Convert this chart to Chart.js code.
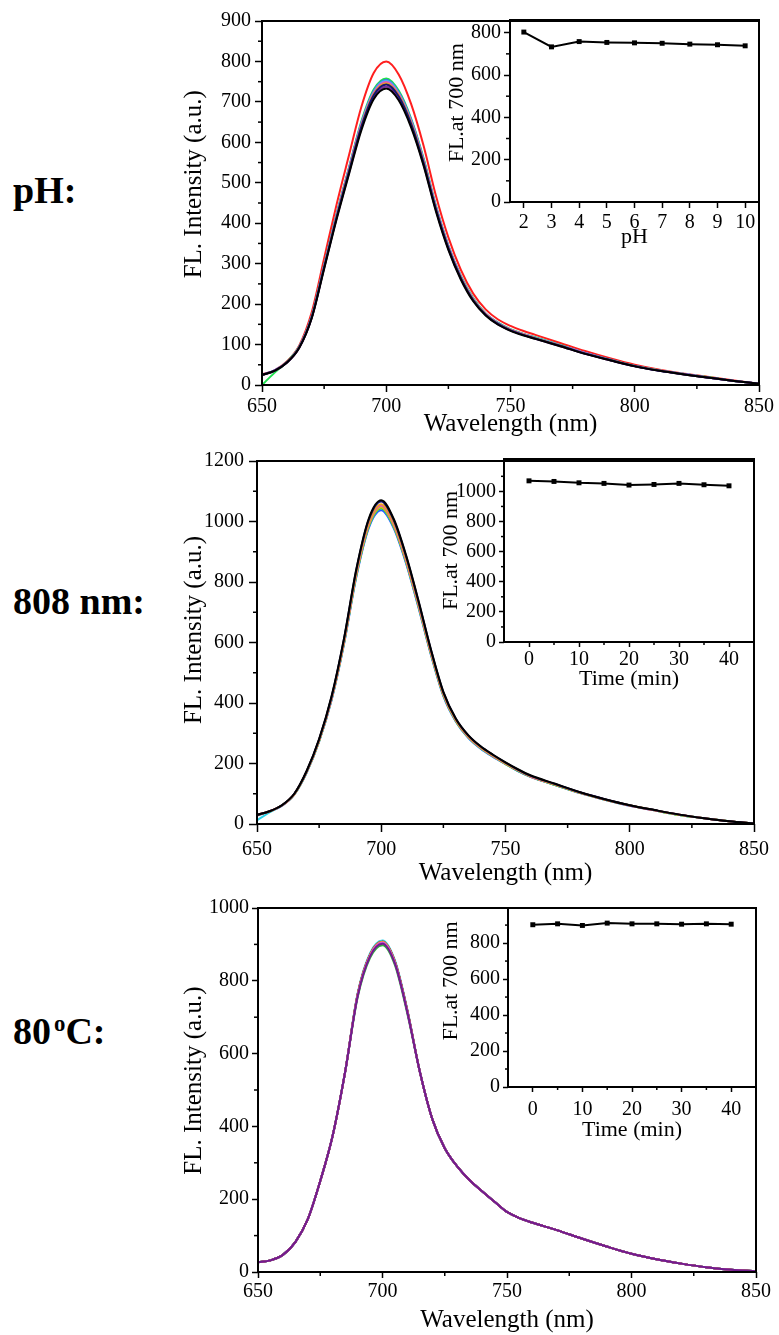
<!DOCTYPE html>
<html lang="en">
<head>
<meta charset="UTF-8">
<title>FL stability</title>
<script src="https://cdn.jsdelivr.net/npm/chart.js"></script>
<style>
  body { margin: 0; background: #fff; width: 779px; height: 1335px; position: relative; overflow: hidden; }
  canvas { position: absolute; display: block; }
  .tag { position: absolute; left: 13px; font: bold 38px "Liberation Serif", serif; line-height: 1; color: #000; white-space: nowrap; }
  .tag sup { font-size: 60%; vertical-align: 0.55em; margin-left: 3px; }
</style>
</head>
<body>

<div class="tag" style="top:171px">pH:</div>
<div class="tag" style="top:582px">808 nm:</div>
<div class="tag" style="top:1012px">80<sup>o</sup>C:</div>

<canvas id="main1" width="604" height="434" style="left:175px; top:5px"></canvas>
<canvas id="inset1" width="339" height="245" style="left:440px; top:5px"></canvas>
<canvas id="main2" width="604" height="444" style="left:175px; top:444px"></canvas>
<canvas id="inset2" width="345" height="248" style="left:434px; top:444px"></canvas>
<canvas id="main3" width="604" height="442" style="left:175px; top:893px"></canvas>
<canvas id="inset3" width="345" height="250" style="left:434px; top:893px"></canvas>

<script>
// wavelength grid of the emission spectra (nm)
const wavelengths = [650,655,660,665,670,675,680,685,690,695,700,705,710,715,720,725,730,735,740,745,750,755,760,770,780,790,800,810,820,830,840,850];

// ---- pH series ----
const phValues = [2,3,4,5,6,7,8,9,10];
const phPeak700 = [803,733,758,754,752,750,746,743,738];
const phSpectra = [
  [26,36,58,98,180,313,446,568,688,772,800,768,695,592,468,365,285,226,187,162,146,134,124,104,84,66,50,38,28,20,11,3], // pH 2
  [25,35,55,92,165,287,409,521,630,707,733,704,637,543,429,334,261,207,172,149,134,123,114,96,77,61,46,35,26,18,10,3],  // pH 3
  [0,30,57,95,170,297,423,538,652,731,758,728,659,561,443,345,270,215,177,154,138,127,118,99,79,63,47,36,27,19,10,3],   // pH 4
  [25,36,56,94,169,295,421,536,648,727,754,724,656,558,441,344,269,213,176,153,137,126,117,98,79,63,47,36,27,18,10,3],  // pH 5
  [25,36,56,94,169,295,419,534,647,725,752,722,654,557,440,343,268,213,176,152,137,126,117,98,79,62,47,36,27,18,10,3],  // pH 6
  [25,36,56,94,168,294,418,533,645,723,750,720,652,555,439,342,267,212,176,152,137,126,116,98,79,62,47,36,27,18,10,3],  // pH 7
  [25,35,56,93,167,292,416,530,641,720,746,717,649,552,436,340,266,211,175,151,136,125,116,97,78,62,47,36,26,18,10,3],  // pH 8
  [25,35,56,93,167,291,414,528,639,717,743,714,646,550,435,339,265,210,174,151,135,124,115,97,78,62,47,35,26,18,10,3],  // pH 9
  [25,35,55,92,166,289,412,524,635,712,738,709,642,546,432,336,263,209,173,150,135,124,114,96,77,61,46,35,26,18,10,3]   // pH 10
];

// ---- 808 nm irradiation series ----
const laserTimes = [0,5,10,15,20,25,30,35,40];
const laserPeak700 = [1070,1066,1057,1053,1042,1046,1053,1044,1037];
const laserSpectra = [
  [30,42,62,100,176,281,422,613,844,1010,1070,1009,888,738,577,437,349,294,257,229,204,181,161,133,105,82,62,46,31,19,9,2], // 0 min
  [30,42,62,100,175,280,420,611,841,1006,1066,1005,885,735,575,435,348,293,256,228,203,180,160,132,105,82,62,46,31,19,9,2], // 5 min
  [30,42,62,99,174,278,417,605,834,997,1057,997,878,729,570,431,345,291,254,226,201,179,159,131,104,81,62,46,31,19,9,2],    // 10 min
  [30,42,61,99,173,277,415,603,831,994,1053,993,874,726,568,430,344,289,253,225,201,178,158,131,104,81,61,45,31,19,9,2],    // 15 min
  [12,38,61,98,171,274,411,597,822,983,1042,982,865,718,562,425,340,286,250,223,199,176,157,129,103,80,61,45,30,19,9,2],    // 20 min
  [30,41,61,98,172,275,413,599,825,987,1046,986,868,721,564,427,341,287,251,224,199,177,157,130,103,81,61,45,30,19,9,2],    // 25 min
  [30,42,61,99,173,277,415,603,831,994,1053,993,874,726,568,430,344,289,253,225,201,178,158,131,104,81,61,45,31,19,9,2],    // 30 min
  [30,41,61,98,172,274,412,598,823,985,1044,984,867,720,563,426,341,287,251,224,199,176,157,129,103,80,61,45,30,19,9,2],    // 35 min
  [28,41,60,97,170,273,409,594,818,979,1037,978,861,715,559,423,339,285,249,222,198,175,156,129,102,80,60,45,30,19,9,2]     // 40 min
];

// ---- 80 oC heating series ----
const heatTimes = [0,5,10,15,20,25,30,35,40];
const heatPeak700 = [902,907,898,911,907,907,905,907,905];
const heatSpectra = [
  [27,32,47,82,145,250,375,550,757,867,902,847,713,550,420,340,290,252,222,193,165,148,136,115,92,70,50,35,23,13,6,2], // 0 min
  [27,32,47,82,145,250,375,550,762,872,907,852,717,550,420,340,290,252,222,193,165,148,136,115,92,70,50,35,23,13,6,2], // 5 min
  [27,32,47,82,145,250,375,550,754,863,898,843,709,550,420,340,290,252,222,193,165,148,136,115,92,70,50,35,23,13,6,2], // 10 min
  [27,32,47,82,145,250,375,550,765,876,911,856,720,550,420,340,290,252,222,193,165,148,136,115,92,70,50,35,23,13,6,2], // 15 min
  [27,32,47,82,145,250,375,550,762,872,907,852,717,550,420,340,290,252,222,193,165,148,136,115,92,70,50,35,23,13,6,2], // 20 min
  [27,32,47,82,145,250,375,550,762,872,907,852,717,550,420,340,290,252,222,193,165,148,136,115,92,70,50,35,23,13,6,2], // 25 min
  [27,32,47,82,145,250,375,550,760,870,905,850,715,550,420,340,290,252,222,193,165,148,136,115,92,70,50,35,23,13,6,2], // 30 min
  [27,32,47,82,145,250,375,550,762,872,907,852,717,550,420,340,290,252,222,193,165,148,136,115,92,70,50,35,23,13,6,2], // 35 min
  [27,32,47,82,145,250,375,550,760,870,905,850,715,550,420,340,290,252,222,193,165,148,136,115,92,70,50,35,23,13,6,2]  // 40 min
];

// tick values
const wlTicks = [650,700,750,800,850];
const wlMinor = [675,725,775,825];
const main1Ticks = [0,100,200,300,400,500,600,700,800,900];
const main1Minor = [50,150,250,350,450,550,650,750,850];
const main2Ticks = [0,200,400,600,800,1000,1200];
const main2Minor = [100,300,500,700,900,1100];
const main3Ticks = [0,200,400,600,800,1000];
const main3Minor = [100,300,500,700,900];
const insetYTicks = [0,200,400,600,800];
const insetYMinor = [100,300,500,700];
const inset2YTicks = [0,200,400,600,800,1000];
const inset2YMinor = [100,300,500,700,900,1100];
const inset3YMinor = [100,300,500,700,900];
const timeTicks = [0,10,20,30,40];
const timeMinor = [5,15,25,35];

// line colours and stacking (lower order = drawn on top)
const phColors = ['#ff1f1f','#000000','#1fe04f','#3d5cff','#38c8e8','#d650d6','#f0a020','#16166e','#7a2a9a'];
const phOrder = [8,0,7,6,5,4,3,1,2];
const laserColors = ['#000000','#15157a','#f0a020','#e050c8','#2ad0e8','#c8c81a','#f07a30','#30b040','#2050ff'];
const laserOrder = [0,1,2,3,7,5,4,6,8];
const heatColors = ['#701c8c','#2050ff','#30b040','#2ad0e8','#000000','#e03030','#15157a','#f0a020','#d650d6'];
const heatOrder = [0,8,7,6,5,4,3,2,1];

const FONT = 'Liberation Serif';

// draws the closed frame and the short minor ticks
const framePlugin = {
  id: 'frame',
  afterDraw(chart, args, opts) {
    const { ctx, chartArea: a, scales } = chart;
    ctx.save();
    ctx.strokeStyle = '#000';
    ctx.lineWidth = 1.5;
    const len = opts.minorLen || 4;
    (opts.xMinor || []).forEach(v => {
      const px = scales.x.getPixelForValue(v);
      ctx.beginPath(); ctx.moveTo(px, a.bottom); ctx.lineTo(px, a.bottom + len); ctx.stroke();
    });
    (opts.yMinor || []).forEach(v => {
      const py = scales.y.getPixelForValue(v);
      if (py < a.top) return;
      ctx.beginPath(); ctx.moveTo(a.left, py); ctx.lineTo(a.left - len, py); ctx.stroke();
    });
    ctx.lineWidth = 2;
    ctx.strokeRect(a.left, a.top, a.right - a.left, a.bottom - a.top);
    ctx.restore();
  }
};

// leading spaces push a rotated y title upwards (the original titles sit above centre)
function lift(text, n) {
  return ' '.repeat(n) + text;
}

function toPoints(xs, ys) {
  return xs.map((x, i) => ({ x: x, y: ys[i] }));
}

function makeChart(id, o) {
  return new Chart(document.getElementById(id), {
    type: 'line',
    data: { datasets: o.datasets },
    options: {
      responsive: false,
      animation: false,
      layout: { padding: { top: 12, right: o.padRight, left: 0, bottom: 0 } },
      plugins: {
        legend: { display: false },
        tooltip: { enabled: false },
        frame: { xMinor: o.xMinor, yMinor: o.yMinor, minorLen: o.minorLen }
      },
      scales: {
        x: {
          type: 'linear', min: o.xMin, max: o.xMax,
          afterBuildTicks: s => { s.ticks = o.xTicks.map(v => ({ value: v })); },
          afterFit: s => { s.height = o.xH; },
          grid: { drawOnChartArea: false, tickLength: o.tickLen, tickWidth: 1.5, tickColor: '#000' },
          border: { display: false },
          ticks: { color: '#000', font: { family: FONT, size: 20 }, padding: o.xPad, maxRotation: 0, autoSkip: false, callback: v => String(v) },
          title: { display: true, text: o.xTitle, color: '#000', font: { family: FONT, size: o.titleSize }, padding: { top: 0, bottom: 0 } }
        },
        y: {
          type: 'linear', min: 0, max: o.yMax,
          afterBuildTicks: s => { s.ticks = o.yTicks.map(v => ({ value: v })); },
          afterFit: s => { s.width = o.yW; },
          grid: { drawOnChartArea: false, tickLength: o.tickLen, tickWidth: 1.5, tickColor: '#000' },
          border: { display: false },
          ticks: { color: '#000', font: { family: FONT, size: 20 }, padding: o.yPad, autoSkip: false, callback: v => String(v) },
          title: { display: true, text: o.yTitle, color: '#000', font: { family: FONT, size: o.titleSize }, padding: { top: 4, bottom: 4 } }
        }
      }
    },
    plugins: [framePlugin]
  });
}

function spectraSets(spectra, colors, order) {
  return spectra.map((vals, i) => ({
    data: toPoints(wavelengths, vals),
    borderColor: colors[i],
    borderWidth: 2,
    pointRadius: 0,
    fill: false,
    cubicInterpolationMode: 'monotone',
    order: order[i]
  }));
}

function insetSet(xs, ys) {
  return [{
    data: toPoints(xs, ys),
    borderColor: '#000',
    backgroundColor: '#000',
    borderWidth: 2,
    pointStyle: 'rect',
    pointRadius: 3.5,
    pointBorderWidth: 0,
    tension: 0
  }];
}

// pH panel
makeChart('main1', {
  datasets: spectraSets(phSpectra, phColors, phOrder),
  xMin: 650, xMax: 850, xTicks: wlTicks, xMinor: wlMinor,
  yMax: 900, yTicks: main1Ticks, yMinor: main1Minor,
  xTitle: 'Wavelength (nm)', yTitle: lift('FL. Intensity (a.u.)', 6), titleSize: 25,
  yW: 87, xH: 54, padRight: 20, tickLen: 7, minorLen: 4, xPad: 3, yPad: 4
});
makeChart('inset1', {
  datasets: insetSet(phValues, phPeak700),
  xMin: 1.5, xMax: 10.5, xTicks: phValues, xMinor: [],
  yMax: 860, yTicks: insetYTicks, yMinor: insetYMinor,
  xTitle: 'pH', yTitle: lift('FL.at 700 nm', 3), titleSize: 22,
  yW: 70, xH: 48, padRight: 20, tickLen: 6, minorLen: 4, xPad: 3, yPad: 3
});

// 808 nm panel
makeChart('main2', {
  datasets: spectraSets(laserSpectra, laserColors, laserOrder),
  xMin: 650, xMax: 850, xTicks: wlTicks, xMinor: wlMinor,
  yMax: 1200, yTicks: main2Ticks, yMinor: main2Minor,
  xTitle: 'Wavelength (nm)', yTitle: lift('FL. Intensity (a.u.)', 4), titleSize: 25,
  yW: 82, xH: 64, padRight: 25, tickLen: 8, minorLen: 4, xPad: 6, yPad: 5
});
makeChart('inset2', {
  datasets: insetSet(laserTimes, laserPeak700),
  xMin: -5, xMax: 45, xTicks: timeTicks, xMinor: timeMinor,
  yMax: 1215, yTicks: inset2YTicks, yMinor: inset2YMinor,
  xTitle: 'Time (min)', yTitle: 'FL.at 700 nm', titleSize: 22,
  yW: 70, xH: 50, padRight: 25, tickLen: 5, minorLen: 3, xPad: 1, yPad: 3
});

// 80 oC panel
makeChart('main3', {
  datasets: spectraSets(heatSpectra, heatColors, heatOrder),
  xMin: 650, xMax: 850, xTicks: wlTicks, xMinor: wlMinor,
  yMax: 1000, yTicks: main3Ticks, yMinor: main3Minor,
  xTitle: 'Wavelength (nm)', yTitle: lift('FL. Intensity (a.u.)', 3), titleSize: 25,
  yW: 83, xH: 63, padRight: 23, tickLen: 6, minorLen: 4, xPad: 2, yPad: 3
});
makeChart('inset3', {
  datasets: insetSet(heatTimes, heatPeak700),
  xMin: -5, xMax: 45, xTicks: timeTicks, xMinor: timeMinor,
  yMax: 995, yTicks: insetYTicks, yMinor: inset3YMinor,
  xTitle: 'Time (min)', yTitle: lift('FL.at 700 nm', 6), titleSize: 22,
  yW: 74, xH: 56, padRight: 23, tickLen: 5, minorLen: 3, xPad: 6, yPad: 3
});
</script>
</body>
</html>
